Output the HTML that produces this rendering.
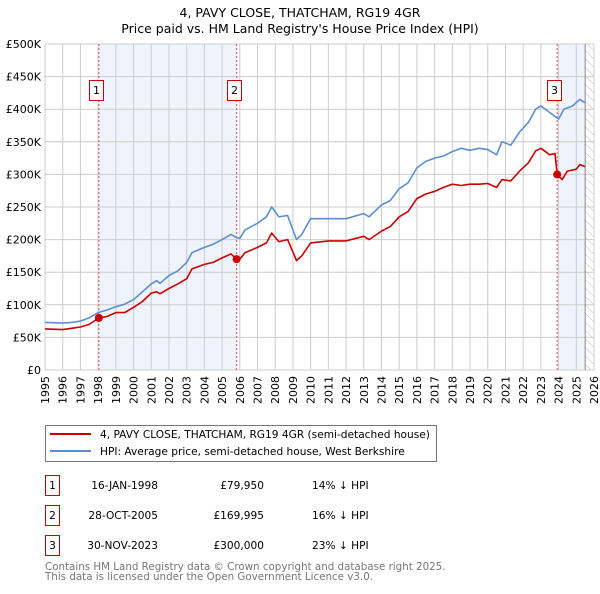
<!DOCTYPE html>
<html><head><meta charset="utf-8"><style>
body{margin:0;background:#fff;font-family:"DejaVu Sans","Liberation Sans",sans-serif;}
svg text{font-family:"DejaVu Sans","Liberation Sans",sans-serif;}
</style></head><body>
<svg id="chart" width="600" height="590" xmlns="http://www.w3.org/2000/svg">
<text x="300" y="17" text-anchor="middle" font-size="12.5" fill="#000">4, PAVY CLOSE, THATCHAM, RG19 4GR</text>
<text x="300" y="33" text-anchor="middle" font-size="12.5" fill="#000">Price paid vs. HM Land Registry's House Price Index (HPI)</text>
<defs><pattern id="hatch" width="6" height="6" patternUnits="userSpaceOnUse" patternTransform="rotate(-45)"><line x1="0" y1="0" x2="0" y2="6" stroke="#bbb" stroke-width="1"/></pattern></defs>
<g id="plot"></g>
<g>
<rect x="45.5" y="425.5" width="391" height="36" fill="#fff" stroke="#777"/>
<line x1="50" y1="434" x2="91" y2="434" stroke="#cc0000" stroke-width="2"/>
<text x="100" y="438" font-size="10.6">4, PAVY CLOSE, THATCHAM, RG19 4GR (semi-detached house)</text>
<line x1="50" y1="451" x2="91" y2="451" stroke="#5b8fd0" stroke-width="2"/>
<text x="100" y="455" font-size="10.6">HPI: Average price, semi-detached house, West Berkshire</text>
</g>
<g font-size="10.6">
<rect x="45.5" y="475.5" width="14" height="20" fill="#fff" stroke="#cc0000"/><text x="52.5" y="489" text-anchor="middle">1</text>
<text x="158" y="489" text-anchor="end">16-JAN-1998</text><text x="264" y="489" text-anchor="end">£79,950</text><text x="312" y="489">14% ↓ HPI</text>
<rect x="45.5" y="505.5" width="14" height="20" fill="#fff" stroke="#cc0000"/><text x="52.5" y="519" text-anchor="middle">2</text>
<text x="158" y="519" text-anchor="end">28-OCT-2005</text><text x="264" y="519" text-anchor="end">£169,995</text><text x="312" y="519">16% ↓ HPI</text>
<rect x="45.5" y="535.5" width="14" height="20" fill="#fff" stroke="#cc0000"/><text x="52.5" y="549" text-anchor="middle">3</text>
<text x="158" y="549" text-anchor="end">30-NOV-2023</text><text x="264" y="549" text-anchor="end">£300,000</text><text x="312" y="549">23% ↓ HPI</text>
</g>
<text x="45" y="570" font-size="10.3" fill="#777">Contains HM Land Registry data © Crown copyright and database right 2025.</text>
<text x="45" y="580" font-size="10.3" fill="#777">This data is licensed under the Open Government Licence v3.0.</text>
</svg>
<script>
const yearTicks=[1995,1996,1997,1998,1999,2000,2001,2002,2003,2004,2005,2006,2007,2008,2009,2010,2011,2012,2013,2014,2015,2016,2017,2018,2019,2020,2021,2022,2023,2024,2025,2026];
const priceTicks=[0,50,100,150,200,250,300,350,400,450,500];
const priceTickLabels=["£0","£50K","£100K","£150K","£200K","£250K","£300K","£350K","£400K","£450K","£500K"];
const hpiT=[1995,1996,1996.5,1997,1997.5,1998,1998.5,1999,1999.5,2000,2000.5,2001,2001.3,2001.5,2002,2002.5,2003,2003.3,2004,2004.5,2005,2005.5,2005.8,2006,2006.3,2007,2007.5,2007.8,2008.2,2008.7,2009.2,2009.5,2010,2011,2012,2013,2013.3,2014,2014.5,2015,2015.5,2016,2016.5,2017,2017.5,2018,2018.5,2019,2019.5,2020,2020.5,2020.8,2021.3,2021.8,2022.3,2022.7,2023,2023.5,2024,2024.3,2024.8,2025.2,2025.5];
const hpiV=[73,72,73,75,80,88,92,97,101,108,120,132,137,133,145,152,165,180,188,193,200,208,203,202,215,225,235,250,235,237,200,208,232,232,232,240,235,253,260,278,287,310,320,325,328,335,340,337,340,338,330,350,345,365,380,400,405,395,385,400,405,415,410];
const propT=[1995,1996,1996.5,1997,1997.5,1998.04,1998.5,1999,1999.5,2000,2000.5,2001,2001.3,2001.5,2002,2002.5,2003,2003.3,2004,2004.5,2005,2005.5,2005.82,2006,2006.3,2007,2007.5,2007.8,2008.2,2008.7,2009.2,2009.5,2010,2011,2012,2013,2013.3,2014,2014.5,2015,2015.5,2016,2016.5,2017,2017.5,2018,2018.5,2019,2019.5,2020,2020.5,2020.8,2021.3,2021.8,2022.3,2022.7,2023,2023.5,2023.8,2023.92,2024.2,2024.5,2025,2025.2,2025.5];
const propV=[63,62,64,66,70,79.95,82,88,88,96,105,118,120,117,125,132,140,155,162,165,172,178,170,170,180,188,195,210,197,200,168,175,195,198,198,205,200,213,220,235,243,263,270,274,280,285,283,285,285,286,280,292,290,305,318,336,340,330,332,300,292,305,308,315,312];
const saleT=[1998.04,2005.82,2023.92];
const saleV=[79.95,169.995,300];
const saleLabels=["1","2","3"];
const X0=45,X1=594,Y0=370,Y1=44;
const x=t=>X0+(t-1995)/(2026-1995)*(X1-X0);
const y=v=>Y0-v/500*(Y0-Y1);
const NS="http://www.w3.org/2000/svg";
const g=document.getElementById('plot');
function mk(tag,attrs,parent){const e=document.createElementNS(NS,tag);for(const k in attrs)e.setAttribute(k,attrs[k]);(parent||g).appendChild(e);return e;}
let e;
e=mk('rect',{x:x(saleT[0]),y:Y1,width:x(saleT[1])-x(saleT[0]),height:Y0-Y1,fill:'#eef3fc'});


e=mk('rect',{x:x(saleT[2]),y:Y1,width:x(2025.5)-x(saleT[2]),height:Y0-Y1,fill:'#eef3fc'});


e=mk('rect',{x:x(2025.5),y:Y1,width:X1-x(2025.5),height:Y0-Y1,fill:'url(#hatch)'});


yearTicks.forEach(t=>{mk('line',{x1:x(t),x2:x(t),y1:Y1,y2:Y0,stroke:'#ccc','stroke-width':1});
 const l=mk('text',{x:0,y:0,'font-size':11,'text-anchor':'end',transform:`translate(${x(t)+4},${Y0+6}) rotate(-90)`});l.textContent=t;
 
 });
priceTicks.forEach((v,i)=>{mk('line',{x1:X0,x2:X1,y1:y(v),y2:y(v),stroke:'#ccc','stroke-width':1});
 const l=mk('text',{x:X0-4,y:y(v)+4,'font-size':11,'text-anchor':'end'});l.textContent=priceTickLabels[i];
 
 });
mk('line',{x1:x(2025.5),x2:x(2025.5),y1:Y1,y2:Y0,stroke:'#888','stroke-width':1});
saleT.forEach((t,i)=>{mk('line',{x1:x(t),x2:x(t),y1:Y1,y2:Y0,stroke:'#e05555','stroke-width':1,'stroke-dasharray':'2,2'});
 const rx=Math.round(x(t))-10;
 const r=mk('rect',{x:rx+0.5,y:80.5,width:14,height:20,fill:'#fff',stroke:'#cc0000'});
 
 
 const tx=mk('text',{x:rx+7.5,y:94,'font-size':11,'text-anchor':'middle'});tx.textContent=saleLabels[i];});
function line(T,V,color,name){const p=mk('path',{d:T.map((t,i)=>(i?'L':'M')+x(t).toFixed(1)+','+y(V[i]).toFixed(1)).join(''),fill:'none',stroke:color,'stroke-width':1.6,'stroke-linejoin':'round'});
 
 }
line(hpiT,hpiV,'#5b8fd0','hpi-line');
line(propT,propV,'#cc0000','property-price-line');
saleT.forEach((t,i)=>{const c=mk('circle',{cx:x(t),cy:y(saleV[i]),r:4,fill:'#cc0000'});
 
 });
</script>
</body></html>
